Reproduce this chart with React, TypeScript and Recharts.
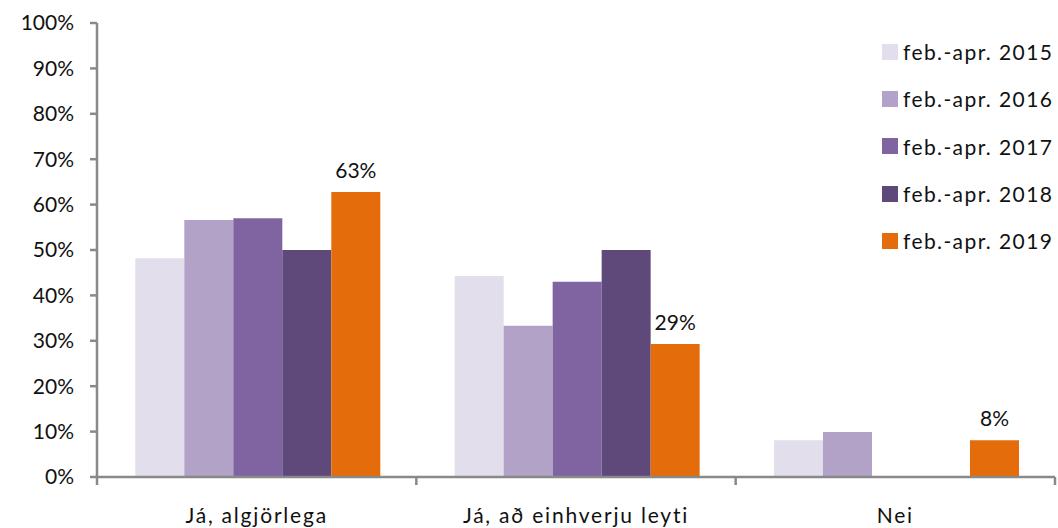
import React from 'react';
import { BarChart, Bar, XAxis, YAxis, LabelList, Legend } from 'recharts';

const categories = ['Já, algjörlega', 'Já, að einhverju leyti', 'Nei'];
const seriesNames = ['feb.-apr. 2015', 'feb.-apr. 2016', 'feb.-apr. 2017', 'feb.-apr. 2018', 'feb.-apr. 2019'];
const seriesColors = ['#E3DEEC', '#B2A2C7', '#8064A2', '#5F497A', '#E46C0A'];

const v2015 = [48.2, 44.3, 8.1];
const v2016 = [56.6, 33.3, 9.9];
const v2017 = [57, 43, 0];
const v2018 = [50, 50, 0];
const v2019 = [62.8, 29.3, 8.1];

const yTicks = [0, 10, 20, 30, 40, 50, 60, 70, 80, 90, 100];

const allValues = [v2015, v2016, v2017, v2018, v2019];
const data = categories.map((name, i) => {
  const row: any = { name };
  seriesNames.forEach((s, j) => {
    row[s] = allValues[j][i];
  });
  return row;
});

const FONT = 'Lato, "Noto Sans", sans-serif';
const AXIS = '#898989';

// label plus the small tick marks between categories
function CategoryTick(props: any) {
  const { x, y, payload, index } = props;
  const half = payload.offset || 0;
  const top = y - 8;
  return (
    <g>
      <line x1={x - half} y1={top} x2={x - half} y2={top + 8} stroke={AXIS} strokeWidth={2.5} />
      {index === categories.length - 1 && (
        <line x1={x + half} y1={top} x2={x + half} y2={top + 8} stroke={AXIS} strokeWidth={2.5} />
      )}
      <text
        x={x}
        y={top + 46}
        textAnchor="middle"
        fontSize={21}
        fill="#111"
        fontFamily={FONT}
        letterSpacing={1.8}
      >
        {payload.value}
      </text>
    </g>
  );
}

function LegendBox() {
  return (
    <div style={{ fontFamily: FONT, fontSize: 21, color: '#111', letterSpacing: 1.4 }}>
      {seriesNames.map((s, i) => (
        <div key={s} style={{ display: 'flex', alignItems: 'center', height: 47.3 }}>
          <span style={{ width: 16, height: 16, background: seriesColors[i], marginRight: 5 }} />
          <span>{s}</span>
        </div>
      ))}
    </div>
  );
}

export default function App() {
  return (
    <div style={{ position: 'absolute', left: 0, top: 0, width: 1058, height: 528, background: '#fff' }}>
      <BarChart
        width={1058}
        height={528}
        data={data}
        margin={{ top: 23, right: 3, bottom: 0, left: 0 }}
        barCategoryGap="12%"
        barGap={0}
      >
        <XAxis
          dataKey="name"
          height={51}
          tickLine={false}
          axisLine={{ stroke: AXIS, strokeWidth: 2.5 }}
          tick={<CategoryTick />}
          interval={0}
        />
        <YAxis
          width={97}
          domain={[0, 100]}
          ticks={yTicks}
          tickFormatter={(v: number) => `${v}%`}
          tickSize={7}
          tickMargin={16}
          tickLine={{ stroke: AXIS, strokeWidth: 2.5 }}
          axisLine={{ stroke: AXIS, strokeWidth: 2.5 }}
          tick={{ fill: '#111', fontSize: 21, fontFamily: FONT }}
          interval={0}
        />
        <Legend
          layout="vertical"
          align="center"
          verticalAlign="middle"
          wrapperStyle={{ position: 'absolute', left: 882, top: 28, width: 176 }}
          content={() => <LegendBox />}
        />
        {seriesNames.map((s, i) => (
          <Bar key={s} dataKey={s} fill={seriesColors[i]} isAnimationActive={false}>
            {i === seriesNames.length - 1 && (
              <LabelList
                dataKey={s}
                position="top"
                offset={14}
                formatter={(v: any) => `${Math.round(Number(v))}%`}
                style={{ fill: '#111', fontSize: 21, fontFamily: FONT }}
              />
            )}
          </Bar>
        ))}
      </BarChart>
    </div>
  );
}
